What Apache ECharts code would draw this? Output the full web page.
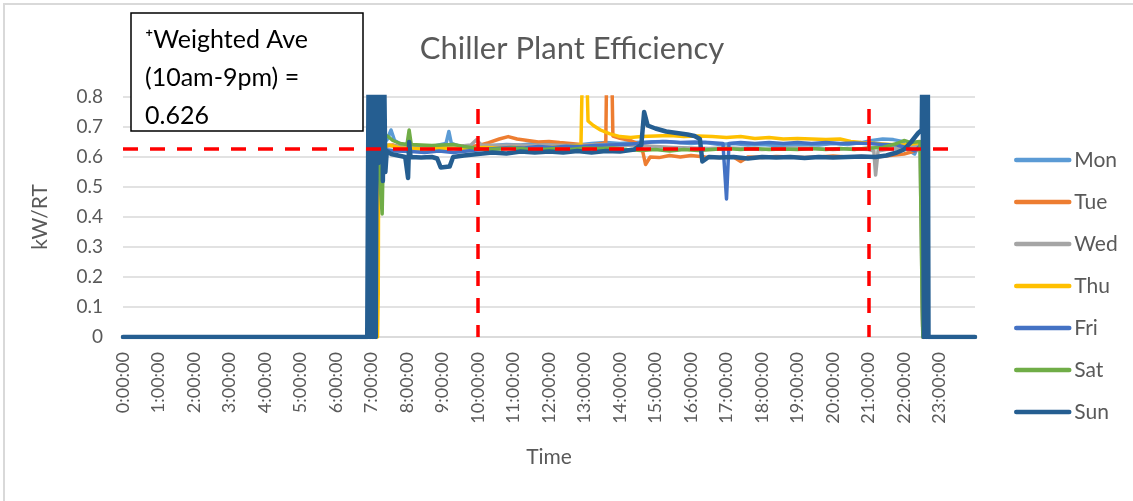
<!DOCTYPE html>
<html>
<head>
<meta charset="utf-8">
<title>Chiller Plant Efficiency</title>
<script src="https://cdn.jsdelivr.net/npm/echarts@6/dist/echarts.min.js"></script>
<style>
  html, body { margin: 0; padding: 0; background: #fff; }
  #main { width: 1133px; height: 501px; }
</style>
</head>
<body>
<div id="main"></div>
<script>
// x = hour of day, y = kW/RT
var mon = [[0,0],[7.02,0],[7.06,0.9],[7.14,0.6],[7.3,0.64],[7.45,0.66],[7.55,0.69],[7.65,0.655],[7.8,0.645],[8.0,0.64],[8.3,0.635],[8.6,0.632],[8.9,0.64],[9.1,0.645],[9.18,0.685],[9.25,0.645],[9.5,0.635],[9.8,0.63],[10.0,0.635],[10.4,0.638],[10.8,0.642],[11.2,0.64],[11.6,0.645],[12.0,0.642],[12.4,0.645],[12.8,0.64],[13.2,0.645],[13.6,0.648],[14.0,0.645],[14.4,0.648],[14.8,0.65],[15.2,0.652],[15.6,0.648],[16.0,0.645],[16.4,0.648],[16.8,0.642],[17.2,0.645],[17.6,0.64],[18.0,0.642],[18.4,0.638],[18.8,0.64],[19.2,0.642],[19.6,0.64],[20.0,0.645],[20.4,0.642],[20.8,0.648],[21.1,0.655],[21.4,0.66],[21.7,0.658],[21.95,0.652],[22.1,0.625],[22.3,0.61],[22.42,0.64],[22.5,0.6],[22.53,0],[24,0]];
var tue = [[0,0],[7.02,0],[7.07,0.85],[7.15,0.62],[7.35,0.635],[7.6,0.64],[7.9,0.63],[8.2,0.628],[8.5,0.625],[8.8,0.63],[9.2,0.628],[9.6,0.632],[10.0,0.638],[10.3,0.648],[10.6,0.66],[10.85,0.668],[11.1,0.66],[11.4,0.655],[11.7,0.65],[12.0,0.652],[12.3,0.648],[12.6,0.645],[12.9,0.642],[13.2,0.64],[13.5,0.645],[13.6,0.65],[13.63,0.95],[13.76,0.95],[13.8,0.67],[14.0,0.662],[14.3,0.655],[14.6,0.64],[14.72,0.575],[14.85,0.6],[15.1,0.598],[15.4,0.605],[15.7,0.6],[16.0,0.605],[16.4,0.6],[16.8,0.598],[17.2,0.6],[17.4,0.585],[17.6,0.6],[18.0,0.598],[18.4,0.602],[18.8,0.6],[19.2,0.598],[19.6,0.6],[20.0,0.603],[20.4,0.6],[20.8,0.602],[21.2,0.6],[21.6,0.605],[22.0,0.61],[22.3,0.62],[22.48,0.63],[22.53,0],[24,0]];
var wed = [[0,0],[7.02,0],[7.08,0.7],[7.16,0.62],[7.4,0.64],[7.8,0.635],[8.2,0.63],[8.6,0.628],[9.0,0.632],[9.4,0.635],[9.8,0.64],[9.95,0.657],[10.1,0.64],[10.5,0.638],[11.0,0.64],[11.5,0.638],[12.0,0.64],[12.5,0.638],[13.0,0.64],[13.5,0.642],[14.0,0.64],[14.5,0.638],[15.0,0.635],[15.5,0.632],[16.0,0.63],[16.5,0.628],[17.0,0.63],[17.5,0.628],[18.0,0.625],[18.5,0.628],[19.0,0.63],[19.5,0.628],[20.0,0.625],[20.5,0.628],[21.0,0.625],[21.15,0.62],[21.2,0.54],[21.27,0.62],[21.5,0.625],[22.0,0.63],[22.3,0.635],[22.45,0.64],[22.5,0.23],[22.53,0],[24,0]];
var thu = [[0,0],[7.17,0],[7.19,0.145],[7.21,0.95],[7.26,0.63],[7.5,0.64],[7.8,0.63],[8.2,0.628],[8.6,0.625],[9.0,0.63],[9.4,0.628],[9.8,0.63],[10.2,0.632],[10.6,0.63],[11.0,0.632],[11.5,0.63],[12.0,0.632],[12.5,0.635],[12.9,0.64],[12.95,0.95],[13.05,0.95],[13.1,0.72],[13.25,0.705],[13.45,0.69],[13.7,0.678],[14.0,0.668],[14.3,0.665],[14.6,0.668],[15.0,0.67],[15.4,0.672],[15.8,0.668],[16.2,0.67],[16.6,0.668],[17.0,0.665],[17.4,0.668],[17.8,0.662],[18.2,0.665],[18.6,0.66],[19.0,0.662],[19.4,0.66],[19.8,0.658],[20.2,0.66],[20.5,0.652],[20.8,0.648],[21.2,0.645],[21.6,0.642],[22.0,0.64],[22.3,0.645],[22.48,0.65],[22.53,0],[24,0]];
var fri = [[0,0],[7.02,0],[7.06,0.8],[7.14,0.6],[7.35,0.625],[7.7,0.62],[8.1,0.618],[8.5,0.615],[8.9,0.62],[9.3,0.615],[9.7,0.62],[10.1,0.625],[10.5,0.628],[10.9,0.632],[11.3,0.63],[11.7,0.635],[12.1,0.632],[12.5,0.636],[12.9,0.635],[13.3,0.638],[13.7,0.64],[14.1,0.642],[14.5,0.645],[14.9,0.65],[15.3,0.652],[15.7,0.648],[16.1,0.65],[16.5,0.648],[16.9,0.645],[17.0,0.46],[17.07,0.645],[17.4,0.648],[17.8,0.645],[18.2,0.648],[18.6,0.645],[19.0,0.648],[19.4,0.645],[19.8,0.648],[20.2,0.645],[20.6,0.647],[21.0,0.645],[21.4,0.642],[21.8,0.64],[22.1,0.63],[22.3,0.62],[22.48,0.64],[22.53,0],[24,0]];
var sat = [[0,0],[7.12,0],[7.15,0.95],[7.22,0.55],[7.3,0.41],[7.34,0.665],[7.45,0.67],[7.6,0.655],[7.8,0.645],[8.0,0.642],[8.06,0.69],[8.12,0.642],[8.4,0.64],[8.7,0.638],[9.0,0.64],[9.3,0.642],[9.6,0.635],[9.9,0.63],[10.2,0.625],[10.6,0.627],[11.0,0.63],[11.4,0.626],[11.8,0.625],[12.2,0.628],[12.6,0.625],[13.0,0.63],[13.4,0.628],[13.8,0.63],[14.2,0.625],[14.6,0.622],[15.0,0.625],[15.4,0.62],[15.8,0.625],[16.2,0.622],[16.6,0.625],[17.0,0.628],[17.4,0.625],[17.8,0.628],[18.2,0.625],[18.6,0.627],[19.0,0.625],[19.4,0.628],[19.8,0.625],[20.2,0.628],[20.6,0.625],[21.0,0.63],[21.4,0.632],[21.8,0.645],[22.0,0.655],[22.2,0.648],[22.45,0.652],[22.5,0.22],[22.53,0],[24,0]];
var sun = [[0,0],[6.88,0],[6.92,0.95],[6.96,0],[7.0,0.95],[7.04,0],[7.08,0.95],[7.12,0],[7.15,0.95],[7.2,0.58],[7.26,0.6],[7.29,0.95],[7.32,0.52],[7.35,0.95],[7.39,0.55],[7.43,0.62],[7.55,0.61],[7.75,0.605],[7.95,0.6],[8.03,0.53],[8.06,0.65],[8.1,0.6],[8.4,0.598],[8.7,0.6],[8.85,0.595],[8.95,0.565],[9.2,0.568],[9.3,0.6],[9.6,0.605],[10.0,0.61],[10.4,0.615],[10.8,0.612],[11.2,0.618],[11.6,0.615],[12.0,0.618],[12.4,0.615],[12.8,0.62],[13.2,0.615],[13.6,0.62],[14.0,0.618],[14.4,0.625],[14.6,0.64],[14.68,0.75],[14.78,0.705],[15.0,0.695],[15.3,0.685],[15.6,0.68],[15.9,0.675],[16.1,0.67],[16.25,0.66],[16.32,0.585],[16.5,0.6],[16.8,0.598],[17.2,0.6],[17.6,0.595],[18.0,0.6],[18.4,0.598],[18.8,0.6],[19.2,0.597],[19.6,0.6],[20.0,0.598],[20.4,0.6],[20.8,0.602],[21.2,0.6],[21.5,0.605],[21.8,0.615],[22.0,0.625],[22.2,0.65],[22.4,0.68],[22.5,0.69],[22.52,0.95],[22.56,0],[22.6,0.95],[22.64,0],[22.67,0.95],[22.69,0],[24,0]];

var days = ['Mon', 'Tue', 'Wed', 'Thu', 'Fri', 'Sat', 'Sun'];
var dayData = [mon, tue, wed, thu, fri, sat, sun];
var dayColors = ['#5B9BD5', '#ED7D31', '#A5A5A5', '#FFC000', '#4472C4', '#70AD47', '#255E91'];

var weightedAve = 0.626;
var windowHours = [10, 21];   // 10am - 9pm
var windowTop = 0.76;

var font = 'Lato, "Liberation Sans", sans-serif';
var grey = '#595959';

var myChart = echarts.init(document.getElementById('main'));

var series = [];
for (var i = 0; i < days.length; i++) {
    series.push({
        name: days[i],
        type: 'line',
        data: dayData[i],
        showSymbol: false,
        symbol: 'none',
        animation: false,
        color: dayColors[i],
        lineStyle: { width: i == 6 ? 4.5 : 3.5, cap: 'round', join: 'round' }
    });
}
// red reference lines
series[6].markLine = {
    silent: true,
    animation: false,
    symbol: ['none', 'none'],
    label: { show: false },
    lineStyle: { color: '#FF0000', width: 3.5, type: [15, 12] },
    data: [
        [{ coord: [0, weightedAve] }, { coord: [23.5, weightedAve] }],
        [{ coord: [windowHours[0], windowTop] }, { coord: [windowHours[0], 0] }],
        [{ coord: [windowHours[1], windowTop] }, { coord: [windowHours[1], 0] }]
    ]
};

var option = {
    backgroundColor: '#fff',
    animation: false,
    title: {
        text: 'Chiller Plant Efficiency',
        left: 567,
        textAlign: 'center',
        top: 28,
        textStyle: { color: grey, fontSize: 31, fontWeight: 'normal', fontFamily: font }
    },
    legend: {
        data: days,
        orient: 'vertical',
        left: 1009,
        top: 144,
        itemWidth: 53,
        itemHeight: 14,
        itemGap: 20,
        itemStyle: { opacity: 0 },
        lineStyle: { width: 4.5, cap: 'round' },
        textStyle: { color: grey, fontSize: 21, lineHeight: 22, fontFamily: font }
    },
    grid: { left: 123, right: 158, top: 97, bottom: 164 },
    xAxis: {
        type: 'value',
        min: 0,
        max: 24,
        interval: 1,
        name: 'Time',
        nameLocation: 'middle',
        nameGap: 110,
        nameTextStyle: { color: grey, fontSize: 21, fontFamily: font },
        axisLine: { show: true, lineStyle: { color: '#d9d9d9', width: 1.5 } },
        axisTick: { show: false },
        splitLine: { show: false },
        axisLabel: {
            rotate: 90,
            margin: 15,
            color: grey,
            fontSize: 18,
            fontFamily: font,
            formatter: function (v) { return v < 24 ? v + ':00:00' : ''; }
        }
    },
    yAxis: {
        type: 'value',
        min: 0,
        max: 0.8,
        interval: 0.1,
        name: 'kW/RT',
        nameLocation: 'middle',
        nameGap: 72,
        nameTextStyle: { color: grey, fontSize: 21, fontFamily: font },
        axisLine: { show: false },
        axisTick: { show: false },
        splitLine: { lineStyle: { color: '#d9d9d9', width: 1.5 } },
        axisLabel: { color: grey, fontSize: 19, margin: 20, fontFamily: font }
    },
    graphic: [
        {
            type: 'rect',
            z: 100,
            silent: true,
            shape: { x: 4, y: 4, width: 1140, height: 510 },
            style: { fill: 'none', stroke: '#d9d9d9', lineWidth: 2 }
        },
        {
            type: 'rect',
            z: 100,
            silent: true,
            shape: { x: 131, y: 13, width: 232, height: 118 },
            style: { fill: '#fff', stroke: '#000', lineWidth: 1.5 }
        },
        {
            type: 'text',
            z: 101,
            silent: true,
            left: 145,
            top: 21,
            style: {
                text: '\u207AWeighted Ave\n(10am-9pm) =\n' + weightedAve,
                fill: '#000',
                font: '25px ' + font,
                lineHeight: 38
            }
        }
    ],
    series: series
};

if (option && typeof option === "object") {
    myChart.setOption(option, true);
}
</script>
</body>
</html>
